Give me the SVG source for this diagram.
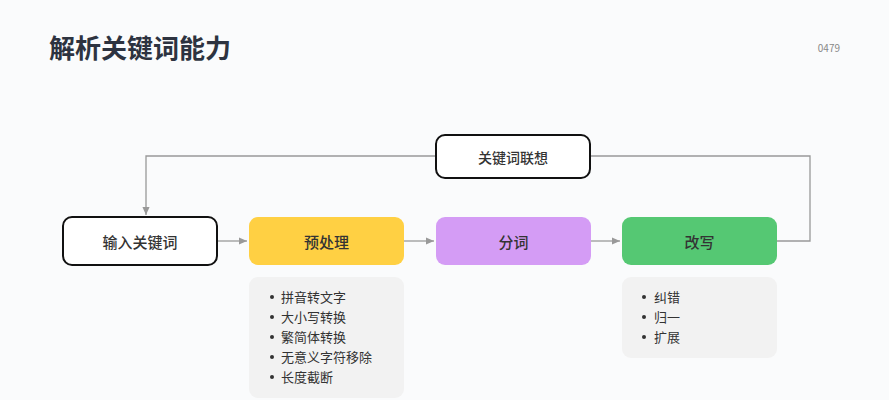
<svg xmlns="http://www.w3.org/2000/svg" width="889" height="400" viewBox="0 0 889 400">
<style>
text{font-family:"Noto Sans CJK SC","Noto Sans",sans-serif;fill:#333}
.n{font-size:15px;text-anchor:middle;dominant-baseline:central;font-weight:500}
.l{font-size:13px}
.c{fill:none;stroke:#999;stroke-width:1.3}
</style>
<defs><marker id="a" viewBox="0 0 10 10" refX="9" refY="5" markerWidth="7" markerHeight="7" orient="auto"><path d="M0,1 L9,5 L0,9z" fill="#999"/></marker></defs>
<rect width="889" height="400" fill="#fafbfc"/>
<text x="49" y="58" style="font-size:26px;font-weight:bold;fill:#2d3340">解析关键词能力</text>
<text x="840" y="52" style="font-size:10px;fill:#888;text-anchor:end">0479</text>
<g id="connectors">
<path class="c" d="M217,241 H247" marker-end="url(#a)"/>
<path class="c" d="M404,241 H434" marker-end="url(#a)"/>
<path class="c" d="M591,241 H620" marker-end="url(#a)"/>
<path class="c" d="M777,241 H810 V156 H591"/>
<path class="c" d="M436,156 H146 V215" marker-end="url(#a)"/>
</g>
<g id="n_assoc"><rect x="436" y="135" width="154" height="43" rx="9" fill="#fff" stroke="#111" stroke-width="2"/><text class="n" x="513" y="156.5" style="font-size:14px">关键词联想</text></g>
<g id="n_input"><rect x="63" y="217" width="154" height="48" rx="9" fill="#fff" stroke="#111" stroke-width="2"/><text class="n" x="140" y="241">输入关键词</text></g>
<g id="n_pre"><rect x="249" y="217" width="155" height="48" rx="9" fill="#ffd043"/><text class="n" x="326.5" y="241">预处理</text></g>
<g id="n_seg"><rect x="436" y="217" width="155" height="48" rx="9" fill="#d49cf5"/><text class="n" x="513.5" y="241">分词</text></g>
<g id="n_rw"><rect x="622" y="217" width="155" height="48" rx="9" fill="#55c873"/><text class="n" x="699.5" y="241">改写</text></g>
<g id="list_pre"><rect x="249" y="277" width="155" height="121" rx="9" fill="#f2f2f2"/>
<g fill="#333"><circle cx="272" cy="297" r="2"/><circle cx="272" cy="317" r="2"/><circle cx="272" cy="337" r="2"/><circle cx="272" cy="357" r="2"/><circle cx="272" cy="377" r="2"/></g>
<text class="l" x="281" y="302">拼音转文字</text><text class="l" x="281" y="322">大小写转换</text><text class="l" x="281" y="342">繁简体转换</text><text class="l" x="281" y="362">无意义字符移除</text><text class="l" x="281" y="382">长度截断</text></g>
<g id="list_rw"><rect x="622" y="277" width="155" height="81" rx="9" fill="#f2f2f2"/>
<g fill="#333"><circle cx="644" cy="297" r="2"/><circle cx="644" cy="317" r="2"/><circle cx="644" cy="337" r="2"/></g>
<text class="l" x="654" y="302">纠错</text><text class="l" x="654" y="322">归一</text><text class="l" x="654" y="342">扩展</text></g>
</svg>
